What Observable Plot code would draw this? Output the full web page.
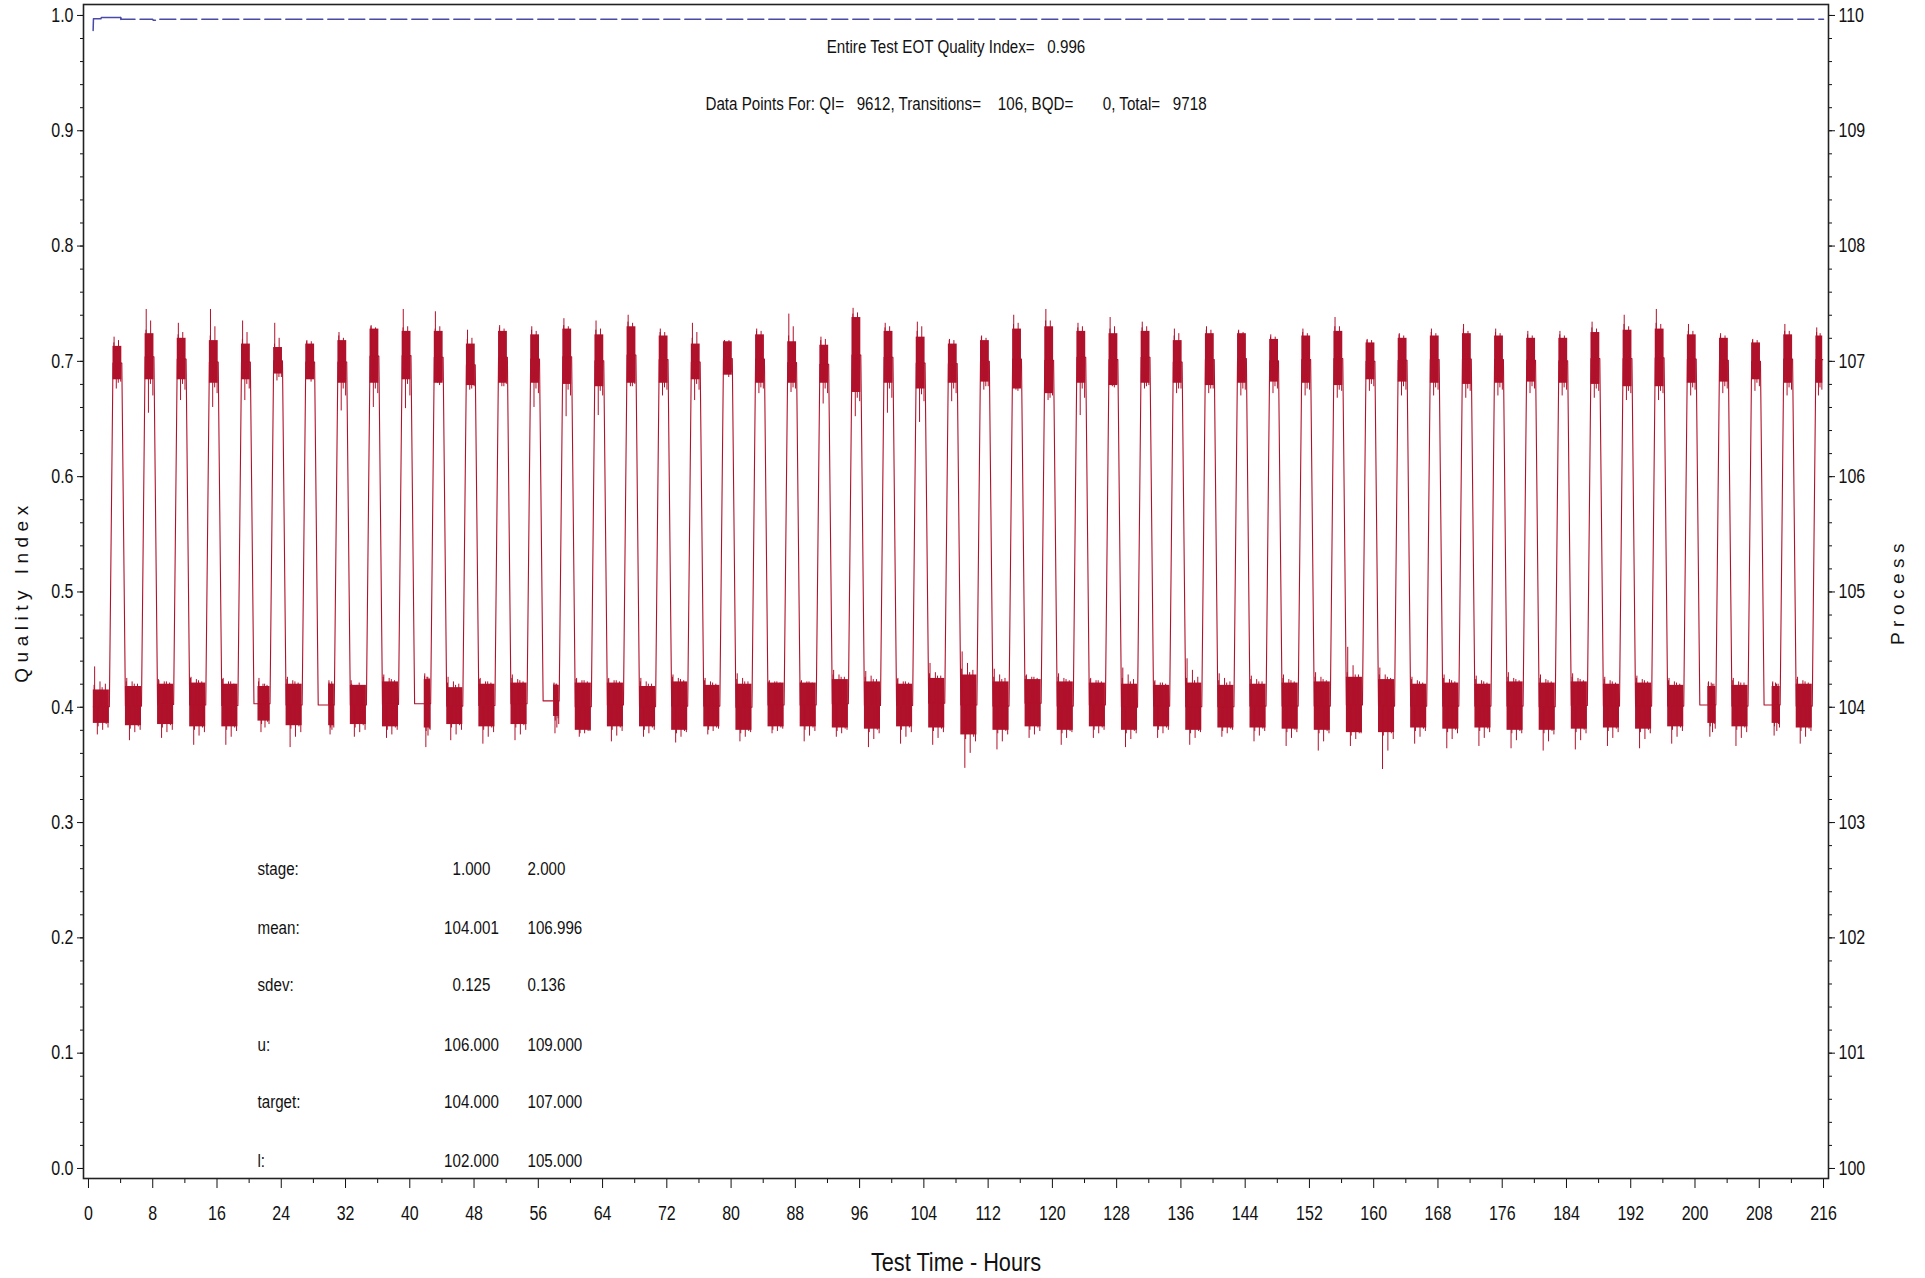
<!DOCTYPE html>
<html><head><meta charset="utf-8">
<script src="https://cdn.jsdelivr.net/npm/d3@7"></script>
<script src="https://cdn.jsdelivr.net/npm/@observablehq/plot@0.6"></script>
<style>
html,body{margin:0;padding:0;background:#fff;}
#chart svg{display:block;}
</style></head><body><div id="chart"></div>
<script>
// ---------------- DATA ----------------
const hourTicks = [0,8,16,24,32,40,48,56,64,72,80,88,96,104,112,120,128,136,144,152,160,168,176,184,192,200,208,216];
const hourMinorTicks = [4,12,20,28,36,44,52,60,68,76,84,92,100,108,116,124,132,140,148,156,164,172,180,188,196,204,212];
const qiTicks = [0.0,0.1,0.2,0.3,0.4,0.5,0.6,0.7,0.8,0.9,1.0];
const processTicks = [100,101,102,103,104,105,106,107,108,109,110];

// Quality index (left axis)
const qiHours  = [0.58, 0.62, 1.55, 1.6, 4.0, 4.05, 8.0, 8.05, 8.6, 8.65, 216];
const qiValues = [0.987, 0.9972, 0.9972, 0.9983, 0.9983, 0.9966, 0.9966, 0.9958, 0.9958, 0.9966, 0.9966];

// Process (right axis): 54 cycles stage 1 (104) -> stage 2 (107)
const firstHour = 0.6, lastHour = 215.9;
const rampHours = 0.45, holdHours = 1.1;
const riseStart = [2.6,6.6,10.6,14.6,18.6,22.6,26.6,30.6,34.6,38.6,42.6,46.6,50.6,54.6,58.6,62.6,66.6,70.6,74.6,78.6,82.6,86.6,90.6,94.6,98.6,102.6,106.6,110.6,114.6,118.6,122.6,126.6,130.6,134.6,138.6,142.6,146.6,150.6,154.6,158.6,162.6,166.6,170.6,174.6,178.6,182.6,186.6,190.6,194.6,198.6,202.6,206.6,210.6,214.6];
// hours of quiet (un-noisy) data at the start of each stage-1 hold
const lowQuiet = [0,0,0,0,0,0.5,0,1.3,0,0,1.2,0,0,0,1.3,0,0,0,0,0,0,0,0,0,0,0,0,0,0,0,0,0,0,0,0,0,0,0,0,0,0,0,0,0,0,0,0,0,0,0,1.0,0,1.0,0];
// dense band of each stage-1 hold [low, high]
const lowCore = [[103.86,104.15],[103.84,104.18],[103.85,104.20],[103.83,104.21],[103.83,104.20],[103.88,104.18],[103.84,104.20],[103.84,104.20],[103.85,104.19],[103.83,104.22],[103.82,104.24],[103.85,104.17],[103.83,104.20],[103.85,104.21],[103.92,104.19],[103.80,104.21],[103.83,104.21],[103.83,104.18],[103.80,104.22],[103.83,104.19],[103.80,104.20],[103.83,104.21],[103.83,104.21],[103.82,104.24],[103.81,104.22],[103.83,104.20],[103.82,104.25],[103.76,104.28],[103.80,104.22],[103.83,104.24],[103.80,104.22],[103.83,104.21],[103.80,104.20],[103.83,104.19],[103.80,104.21],[103.82,104.19],[103.82,104.20],[103.81,104.21],[103.80,104.22],[103.78,104.26],[103.78,104.24],[103.82,104.20],[103.81,104.21],[103.82,104.20],[103.80,104.22],[103.80,104.21],[103.81,104.22],[103.82,104.20],[103.81,104.21],[103.83,104.19],[103.86,104.18],[103.83,104.19],[103.86,104.18],[103.82,104.20]];
// large spikes of each stage-1 hold
const lowSpikes = [[104.35,103.76,104.22,103.80,104.20,103.82],[104.25,103.71,104.22,103.78,104.20,103.80],[104.23,103.73,104.22,103.78,104.21,103.80],[104.26,103.67,104.24,103.75,104.22,103.78],[104.25,103.67,104.22,103.74,104.20,103.79],[104.25,103.78,104.20,103.82,104.19,103.85],[104.26,103.65,104.23,103.74,104.21,103.78],[104.21,103.76,104.20,103.80,104.20,103.82],[104.20,103.74,104.19,103.78,104.18,103.80],[104.28,103.73,104.25,103.76,104.23,103.80],[104.29,103.65,104.26,103.75,104.25,103.80],[104.26,103.71,104.22,103.76,104.20,103.80],[104.25,103.68,104.22,103.74,104.21,103.78],[104.28,103.71,104.24,103.76,104.22,103.80],[104.21,103.77,104.20,103.82,104.19,103.85],[104.25,103.74,104.23,103.77,104.22,103.79],[104.25,103.70,104.23,103.75,104.22,103.79],[104.25,103.74,104.22,103.77,104.20,103.80],[104.28,103.69,104.25,103.74,104.23,103.78],[104.25,103.76,104.22,103.79,104.20,103.81],[104.29,103.70,104.25,103.74,104.22,103.78],[104.23,103.77,104.22,103.79,104.21,103.81],[104.23,103.70,104.22,103.75,104.21,103.79],[104.32,103.74,104.28,103.77,104.26,103.80],[104.31,103.65,104.27,103.72,104.24,103.77],[104.25,103.68,104.22,103.74,104.21,103.78],[104.38,103.67,104.30,103.73,104.27,103.78],[104.48,103.47,104.38,103.60,104.32,103.70],[104.33,103.63,104.28,103.70,104.25,103.76],[104.28,103.73,104.26,103.76,104.25,103.79],[104.29,103.67,104.25,103.73,104.23,103.78],[104.25,103.73,104.23,103.77,104.22,103.80],[104.34,103.65,104.28,103.72,104.24,103.77],[104.23,103.73,104.21,103.77,104.20,103.80],[104.42,103.67,104.32,103.73,104.26,103.78],[104.29,103.74,104.25,103.77,104.22,103.80],[104.27,103.70,104.24,103.75,104.22,103.79],[104.28,103.66,104.24,103.73,104.22,103.78],[104.30,103.62,104.26,103.70,104.23,103.77],[104.52,103.66,104.36,103.72,104.28,103.77],[104.34,103.46,104.28,103.62,104.25,103.72],[104.26,103.68,104.23,103.74,104.21,103.79],[104.28,103.64,104.24,103.72,104.22,103.77],[104.27,103.66,104.23,103.73,104.21,103.78],[104.30,103.64,104.25,103.71,104.23,103.77],[104.28,103.62,104.24,103.70,104.22,103.76],[104.29,103.63,104.25,103.71,104.23,103.77],[104.26,103.66,104.23,103.73,104.21,103.78],[104.27,103.64,104.24,103.72,104.22,103.77],[104.25,103.68,104.22,103.74,104.20,103.79],[104.22,103.74,104.21,103.78,104.20,103.81],[104.25,103.66,104.22,103.73,104.21,103.78],[104.22,103.75,104.21,103.79,104.20,103.82],[104.26,103.68,104.23,103.74,104.21,103.79]];
// small spikes at the edges of each stage-1 band
const lowEdgeSpikes = [[104.19,103.83,104.17,103.85],[104.22,103.81,104.20,103.83],[104.24,103.82,104.22,103.84],[104.25,103.80,104.23,103.82],[104.24,103.80,104.22,103.82],[104.22,103.85,104.20,103.87],[104.24,103.81,104.22,103.83],[104.23,103.82,104.22,103.84],[104.23,103.82,104.21,103.84],[104.26,103.80,104.24,103.82],[104.27,103.79,104.26,103.81],[104.21,103.82,104.19,103.84],[104.24,103.80,104.22,103.82],[104.25,103.82,104.23,103.84],[104.20,103.88,104.20,103.90],[104.24,103.77,104.23,103.79],[104.24,103.80,104.23,103.82],[104.22,103.80,104.20,103.82],[104.26,103.77,104.24,103.79],[104.23,103.80,104.21,103.82],[104.24,103.77,104.22,103.79],[104.22,103.80,104.22,103.82],[104.22,103.80,104.22,103.82],[104.28,103.79,104.26,103.81],[104.26,103.78,104.24,103.80],[104.24,103.80,104.22,103.82],[104.29,103.79,104.27,103.81],[104.33,103.72,104.30,103.74],[104.26,103.77,104.24,103.79],[104.27,103.80,104.26,103.82],[104.26,103.77,104.24,103.79],[104.24,103.80,104.23,103.82],[104.25,103.77,104.22,103.79],[104.22,103.80,104.21,103.82],[104.25,103.77,104.23,103.79],[104.23,103.79,104.21,103.81],[104.24,103.79,104.22,103.81],[104.25,103.78,104.23,103.80],[104.26,103.77,104.24,103.79],[104.30,103.75,104.28,103.77],[104.28,103.75,104.26,103.77],[104.24,103.79,104.22,103.81],[104.25,103.78,104.23,103.80],[104.24,103.79,104.22,103.81],[104.26,103.77,104.24,103.79],[104.25,103.77,104.23,103.79],[104.26,103.78,104.24,103.80],[104.24,103.79,104.22,103.81],[104.25,103.78,104.23,103.80],[104.23,103.80,104.21,103.82],[104.21,103.83,104.20,103.85],[104.23,103.80,104.21,103.82],[104.21,103.83,104.20,103.85],[104.24,103.79,104.22,103.81]];
// dense band of each stage-2 hold [low, high]
const highCore = [[106.84,107.13],[106.84,107.24],[106.84,107.20],[106.81,107.18],[106.84,107.15],[106.89,107.12],[106.84,107.15],[106.81,107.18],[106.81,107.28],[106.84,107.26],[106.81,107.26],[106.79,107.15],[106.81,107.26],[106.81,107.23],[106.80,107.28],[106.78,107.23],[106.81,107.30],[106.81,107.22],[106.84,107.15],[106.88,107.17],[106.81,107.23],[106.81,107.17],[106.81,107.14],[106.73,107.38],[106.81,107.26],[106.76,107.21],[106.81,107.15],[106.82,107.18],[106.76,107.28],[106.72,107.30],[106.81,107.26],[106.79,107.24],[106.81,107.26],[106.81,107.18],[106.79,107.24],[106.81,107.24],[106.82,107.19],[106.81,107.22],[106.79,107.26],[106.84,107.16],[106.82,107.20],[106.81,107.22],[106.80,107.24],[106.81,107.22],[106.82,107.20],[106.81,107.20],[106.80,107.25],[106.78,107.27],[106.78,107.28],[106.81,107.23],[106.82,107.20],[106.84,107.16],[106.81,107.23],[106.81,107.22]];
const highSpikes = [[107.21,106.76,107.18,106.82],[107.45,106.55,107.35,106.70],[107.33,106.66,107.25,106.75],[107.45,106.60,107.30,106.72],[107.35,106.66,107.25,106.76],[107.33,106.83,107.20,106.86],[107.18,106.85,107.17,106.86],[107.25,106.57,107.20,106.70],[107.31,106.60,107.29,106.72],[107.45,106.59,107.30,106.70],[107.43,106.81,107.30,106.83],[107.27,106.75,107.20,106.78],[107.31,106.78,107.28,106.80],[107.30,106.60,107.26,106.72],[107.37,106.52,107.30,106.70],[107.35,106.53,107.28,106.70],[107.40,106.78,107.33,106.80],[107.28,106.70,107.25,106.75],[107.33,106.66,107.25,106.75],[107.18,106.89,107.18,106.90],[107.28,106.72,107.26,106.76],[107.41,106.73,107.30,106.76],[107.21,106.63,107.19,106.72],[107.46,106.52,107.42,106.65],[107.33,106.55,107.30,106.68],[107.34,106.47,107.30,106.65],[107.19,106.65,107.18,106.72],[107.22,106.75,107.20,106.78],[107.40,106.75,107.33,106.77],[107.45,106.66,107.35,106.70],[107.33,106.53,107.30,106.68],[107.38,106.78,107.30,106.80],[107.34,106.76,107.30,106.79],[107.28,106.72,107.24,106.76],[107.30,106.72,107.27,106.76],[107.27,106.70,107.25,106.75],[107.23,106.72,107.21,106.76],[107.28,106.70,107.24,106.75],[107.38,106.68,107.30,106.74],[107.19,106.74,107.18,106.78],[107.24,106.70,107.22,106.75],[107.28,106.70,107.24,106.75],[107.32,106.68,107.26,106.74],[107.28,106.70,107.24,106.75],[107.26,106.72,107.22,106.76],[107.26,106.70,107.22,106.75],[107.34,106.68,107.28,106.74],[107.40,106.66,107.30,106.72],[107.45,106.66,107.32,106.72],[107.32,106.70,107.26,106.75],[107.24,106.72,107.22,106.76],[107.19,106.74,107.18,106.78],[107.32,106.70,107.26,106.75],[107.29,106.70,107.24,106.75]];
const highEdgeSpikes = [[107.16,106.81],[107.27,106.80],[107.23,106.80],[107.22,106.77],[107.19,106.80],[107.15,106.86],[107.17,106.82],[107.22,106.76],[107.30,106.76],[107.29,106.80],[107.28,106.79],[107.19,106.76],[107.29,106.78],[107.27,106.76],[107.31,106.75],[107.27,106.74],[107.34,106.78],[107.25,106.77],[107.20,106.80],[107.18,106.86],[107.26,106.77],[107.22,106.77],[107.18,106.76],[107.41,106.68],[107.29,106.76],[107.26,106.71],[107.18,106.76],[107.21,106.78],[107.32,106.74],[107.35,106.68],[107.29,106.76],[107.28,106.77],[107.29,106.78],[107.22,106.76],[107.27,106.76],[107.26,106.76],[107.21,106.78],[107.25,106.76],[107.30,106.75],[107.18,106.80],[107.23,106.78],[107.25,106.77],[107.28,106.76],[107.25,106.77],[107.23,106.78],[107.23,106.77],[107.29,106.76],[107.32,106.74],[107.33,106.74],[107.26,106.77],[107.22,106.78],[107.18,106.81],[107.26,106.77],[107.25,106.77]];

// text
const titleLine = "Entire Test EOT Quality Index=\u00a0\u00a0 0.996";
const countsLine = "Data Points For: QI=\u00a0\u00a0 9612, Transitions=\u00a0\u00a0\u00a0 106, BQD=\u00a0\u00a0\u00a0\u00a0\u00a0\u00a0 0, Total=\u00a0\u00a0 9718";
const statLabels = ["stage:", "mean:", "sdev:", "u:", "target:", "l:"];
const stage1Stats = ["1.000", "104.001", "0.125", "106.000", "104.000", "102.000"];
const stage2Stats = ["2.000", "106.996", "0.136", "109.000", "107.000", "105.000"];

// ---------------- BUILD ----------------
const W = 1925, H = 1278;
const RED = "#b0112b", BLUE = "#4a4aa6";
const SANS = "'Liberation Sans',Arial,sans-serif";
const toQI = p => (p - 100) / 10;

const redLine = [], cores = [], spikes = [];
const spread = (arr, t0, t1, shift, from) =>
  arr.forEach((v, j) => spikes.push({t: t0 + (j + shift) / arr.length * (t1 - t0), from, to: v}));
for (let k = 0; k < riseStart.length; k++) {
  const rs = riseStart[k];
  const lowStart = k === 0 ? firstHour : riseStart[k - 1] + 2 * rampHours + holdHours;
  const re = rs + rampHours;
  const fs = Math.min(re + holdHours, lastHour);
  const [lLo, lHi] = lowCore[k], [hLo, hHi] = highCore[k];
  const lMid = (lLo + lHi) / 2, hMid = (hLo + hHi) / 2;
  redLine.push({t: lowStart, p: lMid}, {t: rs, p: lMid}, {t: re, p: hMid}, {t: fs, p: hMid});
  const ns = lowStart + lowQuiet[k];
  cores.push({t1: ns, t2: rs, lo: lLo, hi: lHi});
  cores.push({t1: re, t2: fs, lo: hLo, hi: hHi});
  spread(lowSpikes[k], ns, rs, 0.5, lMid);
  spread(lowEdgeSpikes[k], ns, rs, 0.2, lMid);
  spread(highSpikes[k], re, fs, 0.5, hMid);
  spread(highEdgeSpikes[k], re, fs, 0.2, hMid);
}
const qiData = qiHours.map((t, i) => ({t, q: qiValues[i]}));

const rowDy = [-309, -250, -193, -133, -76, -17];
const statMarks = statLabels.flatMap((lab, i) => [
  Plot.text([lab], {text: d => d, frameAnchor: "bottom-left", dx: 174, dy: rowDy[i], textAnchor: "start", lineAnchor: "middle", fontSize: 18.5}),
  Plot.text([stage1Stats[i]], {text: d => d, frameAnchor: "bottom-left", dx: 388, dy: rowDy[i], textAnchor: "middle", lineAnchor: "middle", fontSize: 18.5}),
  Plot.text([stage2Stats[i]], {text: d => d, frameAnchor: "bottom-left", dx: 444, dy: rowDy[i], textAnchor: "start", lineAnchor: "middle", fontSize: 18.5})
]);

const qiMinor = d3.range(0, 1.0001, 0.02);

const chart = Plot.plot({
  width: W, height: H,
  marginLeft: 83, marginRight: W - 1828, marginTop: 4, marginBottom: H - 1178,
  x: {domain: [-0.62, 216.62], label: null},
  y: {domain: [-0.0087, 1.0095], label: null},
  style: {fontFamily: SANS, fontSize: "19.5px", color: "#111", background: "#fff"},
  marks: [
    Plot.axisX(hourMinorTicks, {tickSize: 5, tickFormat: () => "", label: null}),
    Plot.axisX(hourTicks, {tickSize: 10, tickPadding: 18, tickFormat: d => String(d), label: null}),
    Plot.axisY(qiMinor, {anchor: "left", tickSize: 3, tickFormat: () => "", label: null}),
    Plot.axisY(qiTicks, {anchor: "left", tickSize: 6, tickPadding: 4, tickFormat: d3.format(".1f"), label: null}),
    Plot.axisY(qiMinor, {anchor: "right", tickSize: 3, tickFormat: () => "", label: null}),
    Plot.axisY(qiTicks, {anchor: "right", tickSize: 6, tickPadding: 4, tickFormat: d => String(Math.round(d * 10 + 100)), label: null}),
    // process data
    Plot.rect(cores, {x1: "t1", x2: "t2", y1: d => toQI(d.lo), y2: d => toQI(d.hi), fill: RED}),
    Plot.ruleX(spikes, {x: "t", y1: d => toQI(d.from), y2: d => toQI(d.to), stroke: RED, strokeWidth: 1}),
    Plot.line(redLine, {x: "t", y: d => toQI(d.p), stroke: RED, strokeWidth: 1.1}),
    // quality index
    Plot.line(qiData.filter(d => d.t <= 4.05), {x: "t", y: "q", stroke: BLUE, strokeWidth: 1.5}),
    Plot.line(qiData.filter(d => d.t >= 4.0), {x: "t", y: "q", stroke: BLUE, strokeWidth: 1.5, strokeDasharray: "16,5"}),
    Plot.frame({stroke: "#222", strokeWidth: 1.6}),
    // annotations
    Plot.text([titleLine], {text: d => d, frameAnchor: "top", dy: 43, lineAnchor: "middle", fontSize: 18.5}),
    Plot.text([countsLine], {text: d => d, frameAnchor: "top", dy: 100, lineAnchor: "middle", fontSize: 18.5}),
    ...statMarks,
    Plot.text(["Quality Index"], {text: d => d, frameAnchor: "left", dx: -62, rotate: -90, textAnchor: "middle", lineAnchor: "middle", fontSize: 19}),
    Plot.text(["Process"], {text: d => d, frameAnchor: "right", dx: 69, rotate: -90, textAnchor: "middle", lineAnchor: "middle", fontSize: 19}),
    Plot.text(["Test Time - Hours"], {text: d => d, frameAnchor: "bottom", dy: 84, lineAnchor: "middle", fontSize: 26.5})
  ]
});
// SAS-style narrow lettering for numbers and annotations; wide spacing for axis titles
d3.select(chart).selectAll("text").each(function() {
  const s = this.textContent;
  if (s === "Quality Index" || s === "Process") { this.style.letterSpacing = "5.5px"; return; }
  const tr = this.getAttribute("transform");
  if (tr) this.setAttribute("transform", tr + " scale(0.82,1)");
});
document.getElementById("chart").appendChild(chart);
</script></body></html>
